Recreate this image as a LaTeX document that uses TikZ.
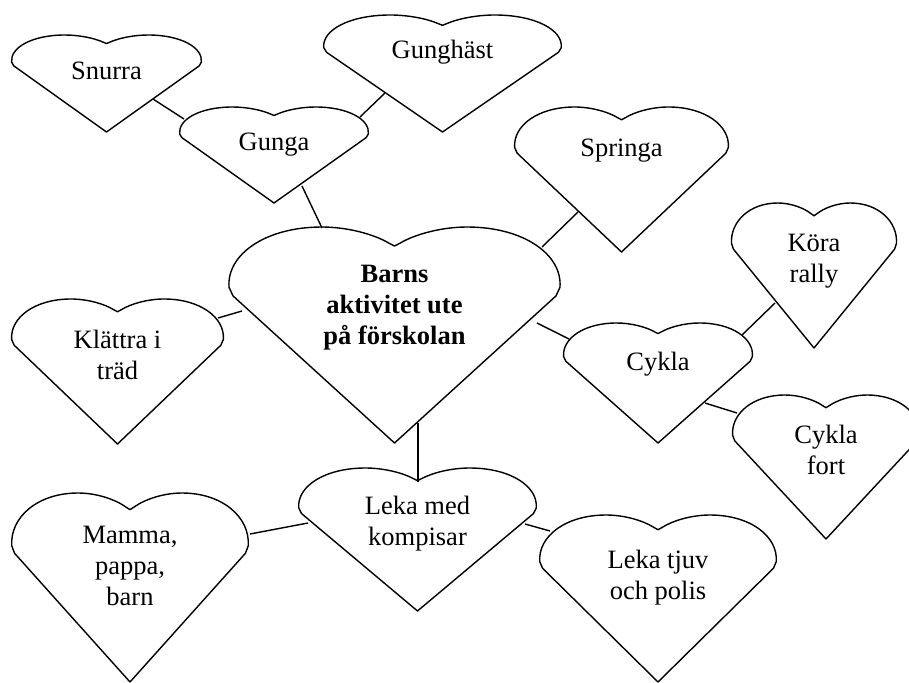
\documentclass[tikz,border=0pt]{standalone}
\usepackage{fontspec}
\setmainfont{Liberation Serif}
\tikzset{
  heartline/.style={draw=black, line width=1.4pt, line join=round},
  lbl/.style={align=center, font=\fontsize{26.5}{31}\selectfont, inner sep=0pt},
  mainlbl/.style={align=center, font=\fontsize{26.5}{31}\selectfont\bfseries, inner sep=0pt},
  conn/.style={draw=black, line width=1.4pt},
}
% #1 left, #2 top, #3 width, #4 height (pixel units, y downwards)
\newcommand\drawheart[4]{%
  \draw[heartline, shift={(#1,#2)}, xscale=#3, yscale=#4]
    (0.5,1) -- (0.0149,0.3188) -- (0.0032,0.2794)
    .. controls (-0.005,0.13) and (0.11,0) .. (0.282,0)
    .. controls (0.36,0) and (0.44,0.035) .. (0.482,0.0737)
    -- (0.5,0.088) -- (0.518,0.0737)
    .. controls (0.56,0.035) and (0.64,0) .. (0.718,0)
    .. controls (0.89,0) and (1.005,0.13) .. (0.9968,0.2794)
    -- (0.9851,0.3188) -- cycle;}
\begin{document}
\begin{tikzpicture}[x=1pt,y=-1pt]
\useasboundingbox (0,0) rectangle (909,682);
\clip (0,0) rectangle (909,682);

% hearts
\drawheart{11}{35}{191}{97}     % Snurra
\drawheart{179}{107}{190}{96}   % Gunga
\drawheart{323}{15}{239}{117}   % Gunghast
\drawheart{514}{107}{215}{145}  % Springa
\drawheart{731}{203}{166}{145}  % Kora rally
\drawheart{228}{227}{333}{216}  % main
\drawheart{11}{299}{213}{145}   % Klattra
\drawheart{563}{323}{190}{120}  % Cykla
\drawheart{732}{395}{188}{144}  % Cykla fort
\drawheart{298}{468}{239}{143}  % Leka med
\drawheart{11}{493}{238}{189}   % Mamma
\drawheart{539}{515}{238}{167}  % Leka tjuv

% labels
\node[lbl] (snurra) at (106.5,71) {Snurra};
\node[lbl] (gunga) at (274,145) {Gunga};
\node[lbl] (gunghast) at (442.5,52) {Gunghäst};
\node[lbl] (springa) at (621.5,151) {Springa};
\node[lbl] (kora) at (814,261) {Köra\\rally};
\node[mainlbl] (main) at (394.5,308) {Barns\\aktivitet ute\\på förskolan};
\node[lbl] (klattra) at (117.5,355) {Klättra i\\träd};
\node[lbl] (cykla) at (658,364) {Cykla};
\node[lbl] (cyklafort) at (826,450) {Cykla\\fort};
\node[lbl] (lekamed) at (417.5,524) {Leka med\\kompisar};
\node[lbl] (mamma) at (130,566) {Mamma,\\pappa,\\barn};
\node[lbl] (lekatjuv) at (658,578) {Leka tjuv\\och polis};

% connector end points on the heart outlines
\coordinate (snurra-e) at (153,99);
\coordinate (gunga-nw) at (184,119);
\coordinate (gunga-ne) at (360,117);
\coordinate (gunghast-sw) at (385,93);
\coordinate (gunga-s) at (302,186);
\coordinate (main-nw) at (322,228);
\coordinate (springa-sw) at (578,212);
\coordinate (main-ne) at (542,247);
\coordinate (main-e) at (537,323);
\coordinate (cykla-w) at (569,339);
\coordinate (cykla-ne) at (742,335);
\coordinate (kora-sw) at (775,303);
\coordinate (cykla-se) at (705,403);
\coordinate (cyklafort-w) at (737,413);
\coordinate (klattra-e) at (218,318);
\coordinate (main-w) at (242,311);
\coordinate (main-s) at (418,423);
\coordinate (lekamed-n) at (418,482);
\coordinate (mamma-e) at (250,534);
\coordinate (lekamed-w) at (308,523);
\coordinate (lekamed-e) at (525,524);
\coordinate (lekatjuv-w) at (550,531);

% connectors
\draw[conn] (snurra-e) -- (gunga-nw);
\draw[conn] (gunga-ne) -- (gunghast-sw);
\draw[conn] (gunga-s) -- (main-nw);
\draw[conn] (springa-sw) -- (main-ne);
\draw[conn] (main-e) -- (cykla-w);
\draw[conn] (cykla-ne) -- (kora-sw);
\draw[conn] (cykla-se) -- (cyklafort-w);
\draw[conn] (klattra-e) -- (main-w);
\draw[conn] (main-s) -- (lekamed-n);
\draw[conn] (mamma-e) -- (lekamed-w);
\draw[conn] (lekamed-e) -- (lekatjuv-w);
\end{tikzpicture}
\end{document}
